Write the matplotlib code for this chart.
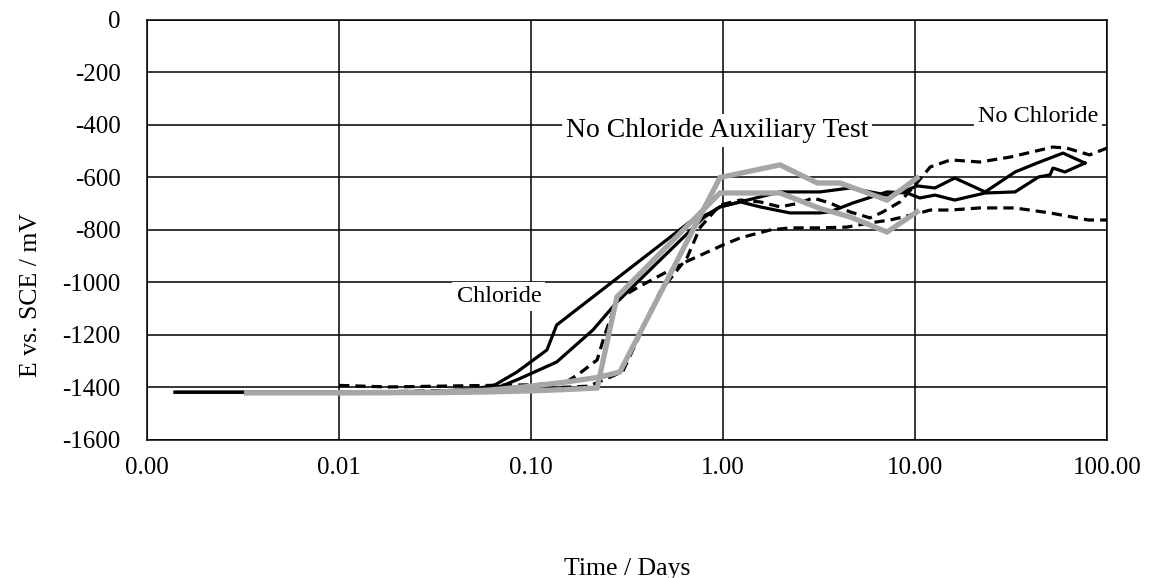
import matplotlib
matplotlib.use("Agg")
import matplotlib.pyplot as plt
from matplotlib.ticker import FixedLocator, FuncFormatter, NullLocator

plt.rcParams['font.family'] = ['Liberation Serif', 'DejaVu Serif']
plt.rcParams['axes.unicode_minus'] = False

# potential traces, time in days, E in mV vs. SCE
t_solid_a = [0.0014, 0.0035, 0.01, 0.03, 0.05, 0.065, 0.0845, 0.121, 0.136, 0.67, 0.855, 0.964,
             1.23, 1.56, 2.23, 3.2, 3.6, 4.75, 7.15, 9.08, 10.6, 12.7, 16.1, 23.2, 33.2, 44.0,
             50.5, 52.3, 60.4, 76.7]
e_solid_a = [-1418, -1418, -1418, -1416, -1408, -1390, -1341, -1257, -1162, -770, -735, -712,
             -693, -712, -735, -735, -731, -697, -655, -659, -678, -667, -686, -659, -655, -598,
             -590, -564, -579, -545]

t_solid_b = [0.0014, 0.0035, 0.01, 0.03, 0.05, 0.07, 0.085, 0.136, 0.21, 0.28, 0.79, 0.964,
             1.23, 1.98, 3.2, 4.58, 7.15, 8.66, 10.24, 12.7, 16.1, 23.2, 33.2, 43.2, 59.0, 76.7]
e_solid_b = [-1418, -1418, -1418, -1416, -1408, -1395, -1370, -1303, -1181, -1075, -754, -712,
             -693, -655, -655, -640, -667, -655, -632, -640, -602, -655, -579, -545, -507, -545]

t_dash_a = [0.0035, 0.01, 0.1, 0.2, 0.3, 0.47, 0.65, 0.76, 0.964, 1.23, 1.56, 1.98, 2.52,
            2.94, 3.6, 4.58, 5.83, 6.81, 8.35, 10.24, 12.0, 15.3, 21.7, 31.4, 52.3, 61.7,
            81.1, 100.0]
e_dash_a = [-1420, -1420, -1405, -1395, -1340, -1035, -905, -790, -705, -686, -693, -712, -697,
            -678, -697, -731, -754, -731, -693, -620, -560, -533, -541, -522, -484, -488,
            -514, -488]

t_dash_b = [0.01, 0.018, 0.05, 0.1, 0.15, 0.18, 0.221, 0.24, 0.28, 0.355, 0.62, 1.0, 1.23,
            1.76, 2.23, 3.2, 4.42, 5.83, 7.41, 10.6, 12.0, 15.3, 21.7, 33.0, 50.5, 80.0, 100.0]
e_dash_b = [-1392, -1398, -1393, -1390, -1383, -1345, -1295, -1208, -1067, -1021, -926, -857,
            -830, -800, -792, -792, -789, -773, -762, -735, -724, -724, -716, -716, -735,
            -762, -762]

t_aux_a = [0.0033, 0.01, 0.03, 0.06, 0.1, 0.15, 0.221, 0.28, 0.964, 1.98, 3.2, 4.58, 7.15, 10.24]
e_aux_a = [-1420, -1420, -1420, -1417, -1413, -1408, -1402, -1055, -659, -659, -718, -750,
           -808, -731]

t_aux_b = [0.0033, 0.01, 0.03, 0.06, 0.1, 0.15, 0.229, 0.29, 0.964, 1.98, 3.1, 4.07, 7.15, 10.24]
e_aux_b = [-1420, -1420, -1418, -1410, -1395, -1380, -1360, -1341, -600, -552, -621, -621,
           -686, -602]

x_ticks = [0.001, 0.01, 0.1, 1, 10, 100]
y_ticks = [-1600, -1400, -1200, -1000, -800, -600, -400, -200, 0]

fig = plt.figure(figsize=(11.57, 5.78), dpi=100)
ax = fig.add_axes([0.1271, 0.2388, 0.8297, 0.7266])

black_kw = dict(color='black', linewidth=2.3, zorder=4)
ax.plot(t_solid_a, e_solid_a, **black_kw)
ax.plot(t_solid_b, e_solid_b, **black_kw)
ax.plot(t_dash_a, e_dash_a, dashes=(3.2, 1.9), **black_kw)
ax.plot(t_dash_b, e_dash_b, dashes=(3.2, 1.9), **black_kw)

gray_kw = dict(color='#a6a6a6', linewidth=3.8, zorder=5, solid_joinstyle='miter')
ax.plot(t_aux_a, e_aux_a, **gray_kw)
ax.plot(t_aux_b, e_aux_b, **gray_kw)

ax.set_xscale('log')
ax.set_xlim(0.001, 100)
ax.set_ylim(-1600, 0)
ax.xaxis.set_major_locator(FixedLocator(x_ticks))
ax.xaxis.set_minor_locator(NullLocator())
ax.xaxis.set_major_formatter(FuncFormatter(lambda v, p: f"{v:.2f}"))
ax.yaxis.set_major_locator(FixedLocator(y_ticks))
ax.yaxis.set_major_formatter(FuncFormatter(lambda v, p: f"{int(v)}"))

ax.grid(True, color='black', linewidth=1.1)
ax.set_axisbelow(True)
for s in ax.spines.values():
    s.set_linewidth(1.1)
ax.tick_params(length=0, labelsize=18)
ax.tick_params(axis='y', pad=19)
ax.tick_params(axis='x', pad=12)

ax.set_xlabel('Time / Days', fontsize=18.5)
ax.set_ylabel('E vs. SCE / mV', fontsize=18.5)
ax.xaxis.set_label_coords(0.5, -0.28)
ax.yaxis.set_label_coords(-0.109, 0.345)

box = dict(facecolor='white', edgecolor='none', pad=3)
ax.text(0.068, -1052, 'Chloride', fontsize=17.5, ha='center', va='center', bbox=box, zorder=3)
ax.text(0.93, -420, 'No Chloride Auxiliary Test', fontsize=20, ha='center', va='center',
        bbox=box, zorder=3)
ax.text(43.7, -368, 'No Chloride', fontsize=17.5, ha='center', va='center', bbox=box, zorder=3)

fig.savefig('out.png', dpi=100)
